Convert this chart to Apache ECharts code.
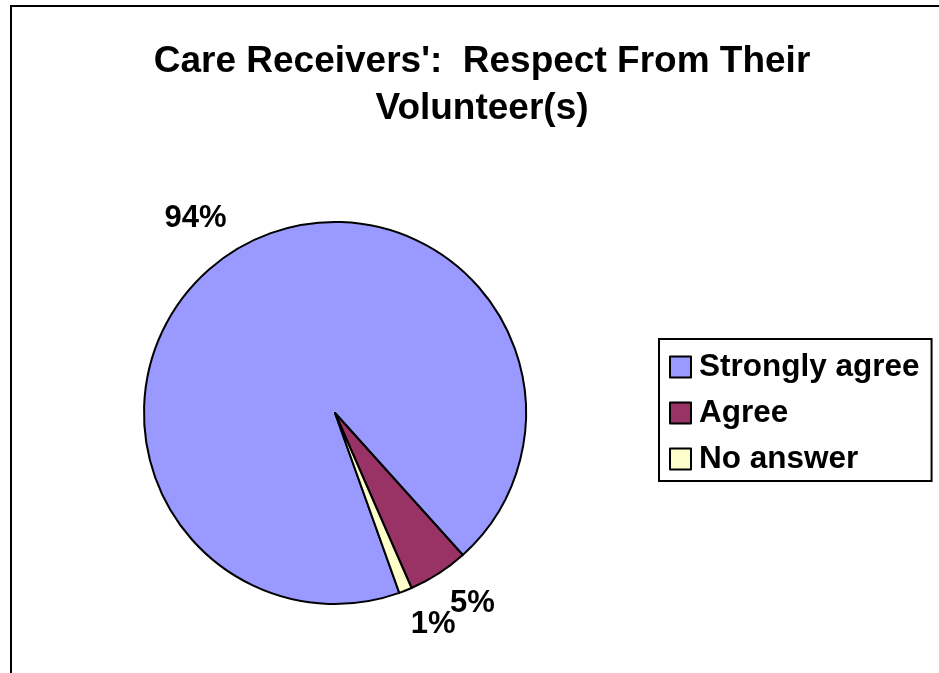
<!DOCTYPE html>
<html>
<head>
<meta charset="utf-8">
<script src="https://cdn.jsdelivr.net/npm/echarts@6/dist/echarts.min.js"></script>
<style>
html,body{margin:0;padding:0;background:#fff;overflow:hidden;width:939px;height:673px;}
#frame{position:absolute;left:10px;top:5px;border:2px solid #000;width:940px;height:700px;}
#chart{width:940px;height:700px;}
</style>
</head>
<body>
<div id="frame"><div id="chart"></div></div>
<script>
const categories = ['Strongly agree', 'Agree', 'No answer'];
const values = [93.8, 5.1, 1.1];
const colors = ['#9999FF', '#993366', '#FFFFCC'];
const titleLines = ["Care Receivers':  Respect From Their", 'Volunteer(s)'];

const FONT = '"Liberation Sans", Arial, sans-serif';
const chart = echarts.init(document.getElementById('chart'), null, {renderer: 'canvas'});
chart.setOption({
  backgroundColor: '#fff',
  animation: false,
  title: {
    text: titleLines.join('\n'),
    left: 'center',
    top: 31,
    padding: 0,
    textStyle: {fontFamily: FONT, fontWeight: 'bold', fontSize: 37, lineHeight: 47, color: '#000'}
  },
  legend: {
    orient: 'vertical',
    left: 647,
    top: 332,
    padding: [12, 12, 6, 10],
    borderColor: '#000',
    borderWidth: 2,
    itemWidth: 21,
    itemHeight: 21,
    itemGap: 14,
    icon: 'rect',
    itemStyle: {borderColor: '#000', borderWidth: 2},
    textStyle: {fontFamily: FONT, fontWeight: 'bold', fontSize: 31.5, lineHeight: 30, color: '#000', padding: [0, 0, 0, 3]},
    data: categories
  },
  series: [{
    type: 'pie',
    center: [323, 406],
    radius: 191,
    startAngle: 90 - 160.33,
    clockwise: true,
    avoidLabelOverlap: false,
    minShowLabelAngle: 0,
    labelLayout: {hideOverlap: false},
    itemStyle: {borderColor: '#000', borderWidth: 2},
    label: {
      show: true,
      position: 'outside',
      distanceToLabelLine: -8,
      fontFamily: FONT, fontWeight: 'bold', fontSize: 31, color: '#000',
      formatter: p => Math.round(p.percent) + '%'
    },
    labelLine: {show: false, length: 36, length2: 0},
    emphasis: {disabled: true},
    data: categories.map((c, i) => ({name: c, value: values[i], itemStyle: {color: colors[i]}}))
  }]
});
</script>
</body>
</html>
